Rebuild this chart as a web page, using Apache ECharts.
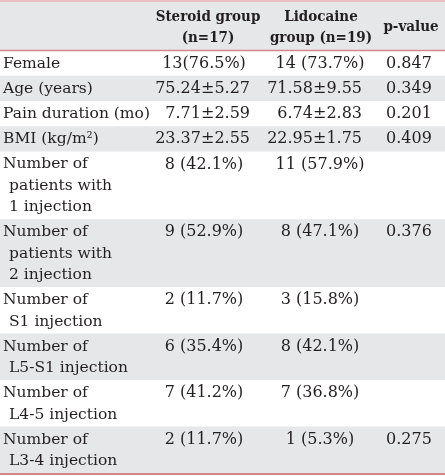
<!DOCTYPE html>
<html><head><meta charset="utf-8">
<script src="https://cdn.jsdelivr.net/npm/echarts@6/dist/echarts.min.js"></script>
<style>html,body{margin:0;padding:0;background:#fff}#c{width:445px;height:476px}</style>
</head><body><div id="c"></div>
<script>
const headers = ['', 'Steroid group\n(n=17)', 'Lidocaine\ngroup (n=19)', 'p-value'];
const variables = ['Female', 'Age (years)', 'Pain duration (mo)', 'BMI (kg/m²)',
  'Number of\npatients with\n1 injection', 'Number of\npatients with\n2 injection',
  'Number of\nS1 injection', 'Number of\nL5-S1 injection', 'Number of\nL4-5 injection',
  'Number of\nL3-4 injection'];
const steroid = ['13(76.5%)', '75.24±5.27', '7.71±2.59', '23.37±2.55', '8 (42.1%)',
  '9 (52.9%)', '2 (11.7%)', '6 (35.4%)', '7 (41.2%)', '2 (11.7%)'];
const lidocaine = ['14 (73.7%)', '71.58±9.55', '6.74±2.83', '22.95±1.75', '11 (57.9%)',
  '8 (47.1%)', '3 (15.8%)', '8 (42.1%)', '7 (36.8%)', '1 (5.3%)'];
const pValues = ['0.847', '0.349', '0.201', '0.409', '', '0.376', '', '', '', '0.275'];

const FONT = '"DejaVu Serif", serif';
const HFONT = 'bold 15px "DejaVu Serif Condensed", "DejaVu Serif", serif';
const TXT = '#231f20';
const RED = '#d5868c';
const GREY = '#e6e7e8';
const PAD = 4, LINE = 21.5;

const rows = [];
let acc = 0;
const hdrLines = 2;
rows.push([0, acc, acc + PAD + LINE * hdrLines + 2, -1]);
acc += PAD + LINE * hdrLines + 2;
variables.forEach((v, i) => {
  const n = v.split('\n').length;
  rows.push([0, acc, acc + PAD + LINE * n, i]);
  acc += PAD + LINE * n;
});
const total = acc;

function txt(x, y, s, align, font) {
  return { type: 'text', x: x, y: y, style: { text: s, x: 0, y: 0, align: align, verticalAlign: 'middle',
    fill: TXT, font: font || ('16px ' + FONT) } };
}
function isPM(s) { return s.indexOf('±') >= 0; }

const chart = echarts.init(document.getElementById('c'), null, { renderer: 'canvas' });
chart.setOption({
  animation: false,
  grid: { left: 0, right: 0, top: 2, bottom: 3 },
  xAxis: { type: 'value', min: 0, max: 445, show: false },
  yAxis: { type: 'value', min: 0, max: total, inverse: true, show: false },
  series: [{
    type: 'custom',
    clip: false,
    encode: { x: 0, y: [1, 2] },
    data: rows,
    renderItem: function (params, api) {
      const idx = api.value(3);
      const y0 = api.coord([0, api.value(1)])[1];
      const y1 = api.coord([0, api.value(2)])[1];
      const xa = api.coord([0, 0])[0], xb = api.coord([445, 0])[0];
      const w = xb - xa;
      const ch = [];
      const grey = idx === -1 || idx % 2 === 1;
      if (grey) ch.push({ type: 'rect', shape: { x: xa, y: y0, width: w, height: y1 - y0 }, style: { fill: GREY } });
      const top = y0 + 13;
      if (idx === -1) {
        const h1 = headers[1].split('\n'), h2 = headers[2].split('\n');
        h1.forEach((s, k) => ch.push(txt(api.coord([208, 0])[0], y0 + 15 + k * 21, s, 'center', HFONT)));
        h2.forEach((s, k) => ch.push(txt(api.coord([321, 0])[0], y0 + 15 + k * 21, s, 'center', HFONT)));
        ch.push(txt(api.coord([411, 0])[0], (y0 + y1) / 2 + 1, headers[3], 'center', HFONT));
        ch.push({ type: 'line', shape: { x1: xa, y1: y0 - 1, x2: xb, y2: y0 - 1 }, style: { stroke: RED, lineWidth: 1.2 } });
        ch.push({ type: 'line', shape: { x1: xa, y1: y1, x2: xb, y2: y1 }, style: { stroke: RED, lineWidth: 1.5 } });
      } else {
        variables[idx].split('\n').forEach((s, k) => ch.push(txt(api.coord([k === 0 ? 3 : 9, 0])[0], top + k * LINE, s, 'left', '15.5px ' + FONT)));
        const sv = steroid[idx], lv = lidocaine[idx], pv = pValues[idx];
        ch.push(isPM(sv) ? txt(api.coord([250, 0])[0], top, sv, 'right') : txt(api.coord([204, 0])[0], top, sv, 'center'));
        ch.push(isPM(lv) ? txt(api.coord([362, 0])[0], top, lv, 'right') : txt(api.coord([320, 0])[0], top, lv, 'center'));
        if (pv) ch.push(txt(api.coord([409, 0])[0], top, pv, 'center'));
        if (idx === variables.length - 1) {
          ch.push({ type: 'line', shape: { x1: xa, y1: y1 + 1, x2: xb, y2: y1 + 1 }, style: { stroke: RED, lineWidth: 2 } });
        }
      }
      return { type: 'group', children: ch };
    }
  }]
});
</script></body></html>
